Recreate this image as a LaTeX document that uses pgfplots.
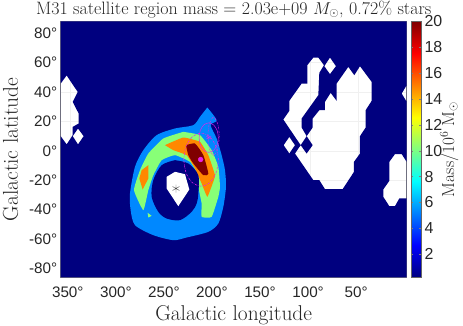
\documentclass[border=0pt]{standalone}
\usepackage{fontspec}
\newfontfamily\tickfont{Liberation Sans}
\usepackage{pgfplots}
\pgfplotsset{compat=1.18}
\definecolor{NavyBg}{HTML}{00007F}
\definecolor{Blue1}{HTML}{0088FF}
\definecolor{Green1}{HTML}{88FF77}
\definecolor{Orange1}{HTML}{FF8800}
\definecolor{Red1}{HTML}{800000}
\definecolor{TickCol}{HTML}{262626}
\definecolor{Mag}{HTML}{E820E8}
\begin{document}
\begin{tikzpicture}
\path[use as bounding box] (-60.7bp,-48.7bp) rectangle (402.3bp,277.3bp);
\begin{axis}[
  at={(0,0)},anchor=south west,
  scale only axis,width=346bp,height=255.8bp,
  x dir=reverse,
  xmin=0,xmax=360,ymin=-86,ymax=88,
  xtick={50,100,150,200,250,300,350},
  xticklabels={50°,100°,150°,200°,250°,300°,350°},
  ytick={-80,-60,-40,-20,0,20,40,60,80},
  yticklabels={-80°,-60°,-40°,-20°,0°,20°,40°,60°,80°},
  tick label style={font=\tickfont\fontsize{15.3}{16}\selectfont,text=TickCol},
  major tick length=0pt,
  xticklabel style={yshift=-6bp,xshift=-2.5bp},
  grid=major,grid style={black!6,line width=0.4bp},
  axis line style={line width=0.5bp,draw=black!50},
  xlabel={Galactic longitude},
  ylabel={Galactic latitude},
  label style={font=\fontsize{21.5}{22}\selectfont,text=TickCol},
  xlabel style={yshift=-1bp},
  ylabel style={yshift=4bp},
  title={M31 satellite region mass = 2.03e+09 $M_\odot$, 0.72\% stars},
  title style={font=\fontsize{18}{19}\selectfont,text=TickCol,yshift=-6bp},
  unbounded coords=jump,
  colormap/jet,
  point meta min=0.2,point meta max=20,
  colorbar,
  colorbar shift/.style={xshift=4.3bp},
  colorbar style={
    at={(parent axis.north east)},anchor=north west,
    width=10bp,
    ytick={2,4,6,8,10,12,14,16,18,20},
    major tick length=2bp,
    axis line style={line width=0.5bp,draw=black!60},
    yticklabel style={font=\tickfont\fontsize{16}{16}\selectfont,text=TickCol,
      /pgf/number format/assume math mode=true},
    ylabel={Mass/$10^6$ M$_\odot$},
    ylabel style={font=\fontsize{17.5}{18}\selectfont,text=TickCol,yshift=9bp},
  },
]
% navy background with the empty regions cut out
\addplot[fill=NavyBg,draw=none,even odd rule] table[row sep=crcr] {
0 -86\\ 360 -86\\ 360 88\\ 0 88\\ 0 -86\\
nan nan\\
360 45.8\\ 353.8 51.3\\ 342.3 40.1\\ 347.5 33.3\\ 341.3 25.4\\ 341.3 18.6\\ 347.5 16.3\\ 347.5 10.7\\ 353.8 4.4\\ 360 10\\
nan nan\\
342 15.2\\ 336.1 10\\ 342 4.4\\ 347.5 10\\
nan nan\\
12.2 -2.2\\ 5.2 -2.2\\ 0 -7.5\\ 0 -32.4\\ 7.7 -32.4\\ 12.2 -37.6\\ 18.1 -37.6\\ 24.3 -31.3\\ 24.3 -26.2\\ 18.1 -20.4\\ 18.1 -7.5\\
nan nan\\
0 44.7\\ 5.2 39\\ 0 33.3\\
nan nan\\
97.15 63.49\\ 91.95 63.49\\ 86.05 58.28\\ 90.91 53.06\\ 91.95 37.87\\ 109.29 22.01\\ 109.29 15.88\\ 104.09 9.99\\ 110.33 3.87\\ 128.36 21.33\\ 122.12 27.22\\ 122.12 34.02\\ 109.29 45.81\\ 103.39 45.81\\ 103.39 58.28\\
nan nan\\
104.09 9.99\\ 97.85 3.87\\ 104.09 -1.8\\ 110.33 3.87\\ 116.23 -1.8\\ 97.15 -19.93\\ 90.91 -19.93\\ 85.01 -26.05\\ 66.64 -26.05\\ 54.84 -14.27\\ 54.84 -7.47\\ 48.6 -1.8\\ 48.6 9.99\\ 42.7 15.88\\ 42.7 27.67\\ 36.46 34.02\\ 36.46 46.94\\ 48.6 57.6\\ 54.5 51.48\\ 60.74 57.14\\ 72.88 45.81\\ 72.88 34.02\\ 79.12 39.46\\ 85.01 33.34\\ 85.01 27.67\\ 90.91 27.67\\ 97.85 22.01\\ 97.85 15.88\\
nan nan\\
122.12 9.54\\ 116.23 3.87\\ 122.12 -1.8\\ 128.02 3.87\\
nan nan\\
79.81 63.49\\ 73.57 57.6\\ 79.81 52.16\\ 85.71 57.6\\
};
% contour bands
\addplot[fill=Blue1,draw=none,smooth,tension=0.45] coordinates {
(207.45,29.49)(197.74,20.88)(203.98,17.48)(197.74,8.41)(192.54,-2.93)(189.07,-13.13)(188.03,-24.46)(190.8,-38.06)(196,-49.4)(206.41,-55.07)(228.95,-58.92)(242.82,-60.73)(263.63,-57.33)(282.7,-50.53)(287.21,-40.33)(287.9,-29)(282.7,-10.86)(274.03,0.48)(260.16,10.68)(241.09,15.21)(222.01,17.48)(215.08,23.14)(207.45,29.49)};
\addplot[fill=Green1,draw=none,smooth,tension=0.25] coordinates {
(232.42,12.94)(215.08,10.68)(202.94,0.48)(196,-10.86)(194.27,-24.46)(196,-31.26)(202.94,-44.87)(213.34,-44.87)(213.34,-35.8)(216.12,-26.73)(216.81,-16.53)(225.48,-7.46)(241.09,-2.93)(254.96,-6.33)(263.63,-16.53)(268.83,-26.73)(274.03,-40.33)(283.74,-26.73)(277.5,-13.13)(268.83,-1.79)(253.23,8.41)(232.42,12.94)};
\addplot[fill=Green1,draw=none] coordinates {(269.53,-42.14)(265.36,-44.19)(268.83,-45.32)(269.53,-42.14)};
\addplot[fill=Orange1,draw=none,smooth,tension=0.2] coordinates {
(251.49,3.88)(232.42,9.09)(215.08,6.14)(206.41,-2.93)(199.47,-16.53)(201.9,-22.2)(207.45,-31.26)(213.34,-22.2)(220.28,-11.99)(228.95,-2.93)(242.82,0.48)(251.49,3.88)};
\addplot[fill=Orange1,draw=none] coordinates {
(268.83,-9.73)(268.83,-18.79)(274.73,-26.28)(278.2,-18.79)(275.77,-13.13)(268.83,-9.73)};
\addplot[fill=Red1,draw=none,smooth,tension=0.3] coordinates {
(229.64,3.88)(220.28,5.01)(211.61,-2.93)(206.41,-15.39)(211.61,-16.53)(222.01,-8.59)(227.22,-2.93)(229.64,3.88)};
% central hole
\addplot[fill=NavyBg,draw=none,smooth,tension=0.5] coordinates {
(241.09,-6.33)(227.22,-8.59)(216.81,-16.53)(216.81,-29)(218.55,-35.8)(223.75,-41.46)(235.89,-47.13)(249.76,-46)(258.43,-41.46)(265.36,-31.26)(263.63,-19.93)(254.96,-9.73)(241.09,-6.33)};
\addplot[fill=white,draw=none] coordinates {
(241.09,-14.26)(230.68,-15.85)(226.18,-26.28)(237.62,-37.61)(249.76,-25.6)(249.76,-17.66)(241.09,-14.26)};
\addplot[only marks,mark=asterisk,mark size=4bp,mark options={draw=black!70,line width=0.4bp}] coordinates {(240.05,-25.6)};
% satellite circles
\addplot[Mag,line width=0.55bp,dash pattern=on 2bp off 1bp on 0.5bp off 1bp,smooth] coordinates {
(232,-6)(229.6,3)(223,9.6)(214,12)(205,9.6)(198.4,3)(196,-6)(198.4,-15)(205,-21.6)(214,-24)(223,-21.6)(229.6,-15)(232,-6)};
\addplot[Mag,line width=0.45bp,smooth] coordinates {
(216,9)(214.7,14)(211,17.7)(206,19)(201,17.7)(197.3,14)(196,9)(197.3,4)(201,0.3)(206,-1)(211,0.3)(214.7,4)(216,9)};
\addplot[Mag,line width=0.45bp,dash pattern=on 2bp off 1bp on 0.5bp off 1bp,smooth] coordinates {
(207,10)(205.5,18)(201,23)(196.5,18)(195,10)(196.5,2)(201,-3)(205.5,2)(207,10)};
\addplot[only marks,mark=asterisk,mark size=3bp,mark options={draw=Mag,line width=0.3bp}] coordinates {(206,9)};
\addplot[only marks,mark=*,mark size=2.4bp,mark options={draw=Mag,fill=Mag}] coordinates {(214.38,-5.87)};
\end{axis}
\end{tikzpicture}
\end{document}
